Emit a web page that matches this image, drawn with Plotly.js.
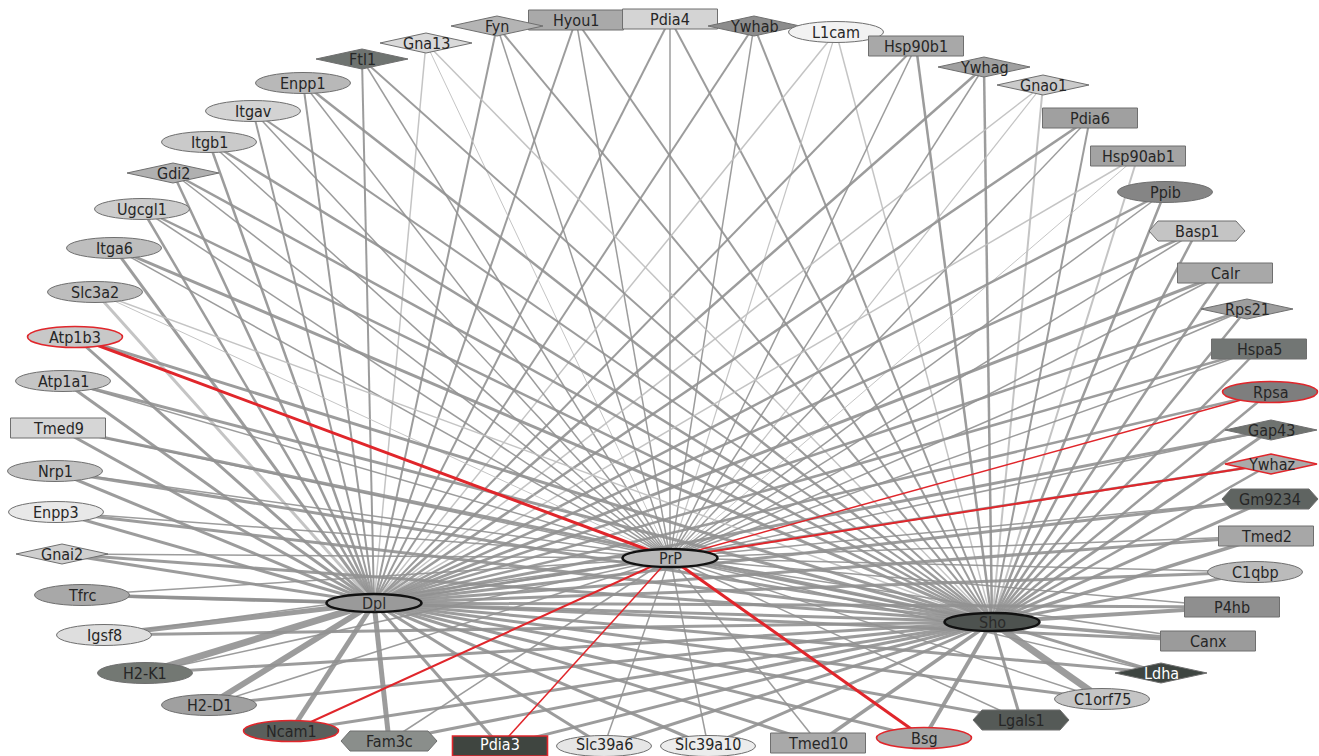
<!DOCTYPE html>
<html><head><meta charset="utf-8">
<script src="https://cdn.plot.ly/plotly-3.0.1.min.js"></script>
<style>html,body{margin:0;padding:0;background:#fff;overflow:hidden}#chart{width:1319px;height:756px}</style>
</head><body><div id="chart"></div>
<script>
// ---- data ----
const nodeNames = ['Hyou1','Pdia4','Fyn','Ywhab','L1cam','Hsp90b1','Gna13','Ftl1','Ywhag','Gnao1',
 'Enpp1','Itgav','Pdia6','Itgb1','Hsp90ab1','Gdi2','Ppib','Ugcgl1','Basp1','Itga6',
 'Calr','Slc3a2','Rps21','Atp1b3','Hspa5','Atp1a1','Rpsa','Tmed9','Gap43','Nrp1',
 'Ywhaz','Enpp3','Gm9234','Gnai2','Tmed2','Tfrc','C1qbp','Igsf8','P4hb','H2-K1',
 'Canx','H2-D1','Ldha','Ncam1','C1orf75','Fam3c','Lgals1','Pdia3','Bsg','Slc39a6',
 'Tmed10','Slc39a10'];
const nodeX = [576,670,497,754,836,916,426,362,984,1043,
 303,253,1090,209,1138,173,1165,142,1197,114,
 1225,95,1247,75,1259,63,1270,58,1271,55,
 1271,56,1270,62,1266,82,1255,104,1232,145,
 1208,209,1161,291,1102,389,1021,500,924,604,
 818,708];
const nodeY = [20,19,26,26,32,46,43,59,67,85,
 83,111,118,142,156,173,192,209,231,248,
 273,292,309,337,349,381,392,428,430,471,
 464,512,499,554,536,595,572,635,607,673,
 641,705,673,731,699,741,720,746,738,746,
 743,746];
const nodeShape = ['rect','rect','diamond','diamond','ellipse','rect','diamond','diamond','diamond','diamond',
 'ellipse','ellipse','rect','ellipse','rect','diamond','ellipse','ellipse','hexagon','ellipse',
 'rect','ellipse','diamond','ellipse','rect','ellipse','ellipse','rect','diamond','ellipse',
 'diamond','ellipse','hexagon','diamond','rect','ellipse','ellipse','ellipse','rect','ellipse',
 'rect','ellipse','diamond','ellipse','ellipse','hexagon','hexagon','rect','ellipse','ellipse',
 'rect','ellipse'];
const nodeFill = ['#a9a9a9','#d4d4d4','#b4b4b4','#8c8c8c','#f2f2f2','#a8a8a8','#d9d9d9','#6e7370','#a0a0a0','#cbcbcb',
 '#b8b8b8','#d3d3d3','#a0a0a0','#cacaca','#a3a3a3','#b0b0b0','#858585','#cccccc','#c4c4c4','#bebebe',
 '#a8a8a8','#bdbdbd','#9e9e9e','#c8c8c8','#727674','#c5c5c5','#7e7e7e','#d6d6d6','#6f7370','#c2c2c2',
 '#aaaaaa','#e8e8e8','#5f6461','#cfcfcf','#a7a7a7','#a8a8a8','#bbbbbb','#dedede','#8f8f8f','#737873',
 '#9b9b9b','#a0a0a0','#3e4541','#5a5f5c','#c5c5c5','#8a8e8b','#555a57','#3f4540','#a5a5a5','#e6e6e6',
 '#a9a9a9','#ececec'];
const nodeRed = [0,0,0,0,0,0,0,0,0,0, 0,0,0,0,0,0,0,0,0,0, 0,0,0,1,0,0,1,0,0,0,
 1,0,0,0,0,0,0,0,0,0, 0,0,0,1,0,0,0,1,1,0, 0,0];
const nodeWhiteText = [0,0,0,0,0,0,0,0,0,0, 0,0,0,0,0,0,0,0,0,0, 0,0,0,0,0,0,0,0,0,0,
 0,0,0,0,0,0,0,0,0,0, 0,0,1,0,0,0,0,1,0,0, 0,0];
const widthToPrP = [1.5,1.5,1.5,1.5,1.2,1.5,1,1.5,1.5,1.2, 1.5,1.5,1.5,1.5,1,1.5,1.5,1.5,1.5,1.5,
 1.5,1,1.5,3,1.5,1.5,1.5,1.5,1.5,1.5, 2,1.5,1.5,1.5,1.5,1.5,1.5,1.5,1.5,1.5,
 1.5,1.5,1.5,2,1.5,1.5,1.5,1.5,3,1.5, 1.5,1.5];
const widthToDpl = [2,2,2,2,1.5,2,1.5,2,2.5,1.5, 2,2,2.5,2.5,1.5,2.5,2.5,2.5,2.5,3,
 3,3,2.5,3,2.5,3,2.5,3,3,3, 2.5,3,3,3,3,3.5,3,5,3,7,
 3,6,3,5,3,5,3,3,3,3, 3,3];
const widthToSho = [2,2,2,2,1.5,2.5,1.5,2,2.5,2, 2.5,2,2,2.5,2,2.5,2.5,2.5,2.5,3,
 2.5,1.5,2.5,3,2.5,3,2.5,3,3,3, 2.5,3,3,3,3.5,3,3,3,4,3,
 3.5,3,3,3,7,3,3,3,4,3, 3.5,3];
const lightEdge = [0,0,0,0,1,0,1,0,0,1, 0,0,0,0,1,0,0,0,0,0, 0,1,0,0,0,0,0,0,0,0,
 0,0,0,0,0,0,0,0,0,0, 0,0,0,0,0,0,0,0,0,0, 0,0];
const hubNames = ['PrP','Dpl','Sho'];
const hubX = [670,374,992];
const hubY = [558,603,622];
const hubFill = ['#b8b8b8','#9a9a9a','#4d524f'];
const hubLinks = [[0,1,2],[0,2,2]];

// ---- build ----
const traces = [];
const grey = 'rgba(145,145,145,0.9)';
const lightGrey = 'rgba(190,190,190,0.9)';
function edge(x0,y0,x1,y1,w,c){
  traces.push({type:'scatter',mode:'lines',x:[x0,x1],y:[y0,y1],
    line:{color:c,width:w},hoverinfo:'skip',showlegend:false});
}
const redList = [];
for(let i=0;i<nodeNames.length;i++){
  const c = lightEdge[i]?lightGrey:grey;
  edge(nodeX[i],nodeY[i],hubX[1],hubY[1],widthToDpl[i],c);
  edge(nodeX[i],nodeY[i],hubX[2],hubY[2],widthToSho[i],c);
  if(nodeRed[i]) redList.push(i); else edge(nodeX[i],nodeY[i],hubX[0],hubY[0],widthToPrP[i],c);
}
hubLinks.forEach(l=>edge(hubX[l[0]],hubY[l[0]],hubX[l[1]],hubY[l[1]],l[2],grey));
redList.forEach(i=>edge(nodeX[i],nodeY[i],hubX[0],hubY[0],widthToPrP[i],'#e0262b'));

const shapes = [];
const annotations = [];
const font = 'Liberation Sans Narrow, Arial Narrow, DejaVu Sans Condensed, sans-serif';
function nodeShapeDef(kind,x,y,fill,lineColor,lineWidth,w,h){
  const base = {xref:'x',yref:'y',layer:'above',fillcolor:fill,line:{color:lineColor,width:lineWidth}};
  if(kind==='ellipse') return Object.assign(base,{type:'circle',x0:x-w/2,x1:x+w/2,y0:y-h/2,y1:y+h/2});
  if(kind==='rect') return Object.assign(base,{type:'rect',x0:x-w/2,x1:x+w/2,y0:y-h/2,y1:y+h/2});
  let p;
  if(kind==='diamond') p=`M${x-w/2},${y} L${x},${y-h/2} L${x+w/2},${y} L${x},${y+h/2} Z`;
  else p=`M${x-w/2},${y} L${x-w/2+9},${y-h/2} L${x+w/2-9},${y-h/2} L${x+w/2},${y} L${x+w/2-9},${y+h/2} L${x-w/2+9},${y+h/2} Z`;
  return Object.assign(base,{type:'path',path:p});
}
for(let i=0;i<nodeNames.length;i++){
  const k=nodeShape[i];
  const w = k==='diamond'?92:(k==='hexagon'?96:95);
  const h = k==='ellipse'?21:20;
  shapes.push(nodeShapeDef(k,nodeX[i],nodeY[i],nodeFill[i],nodeRed[i]?'#e0262b':'#6f6f6f',nodeRed[i]?1.6:1,w,h));
  annotations.push({x:nodeX[i],y:Math.min(nodeY[i],744),xref:'x',yref:'y',text:nodeNames[i],showarrow:false,
    font:{family:font,size:16,color:nodeWhiteText[i]?'#ffffff':'#262626'}});
}
for(let j=0;j<3;j++){
  shapes.push(nodeShapeDef('ellipse',hubX[j],hubY[j],hubFill[j],'#111111',2.5,95,18));
  annotations.push({x:hubX[j],y:hubY[j],xref:'x',yref:'y',text:hubNames[j],showarrow:false,
    font:{family:font,size:16,color:'#2a2a2a'}});
}

const layout = {
  width:1319,height:756,margin:{l:0,r:0,t:0,b:0},
  paper_bgcolor:'#ffffff',plot_bgcolor:'#ffffff',
  xaxis:{range:[0,1319],visible:false,fixedrange:true},
  yaxis:{range:[756,0],visible:false,fixedrange:true},
  shapes:shapes,annotations:annotations,showlegend:false
};
Plotly.newPlot('chart',traces,layout,{displayModeBar:false,staticPlot:true});
</script></body></html>
